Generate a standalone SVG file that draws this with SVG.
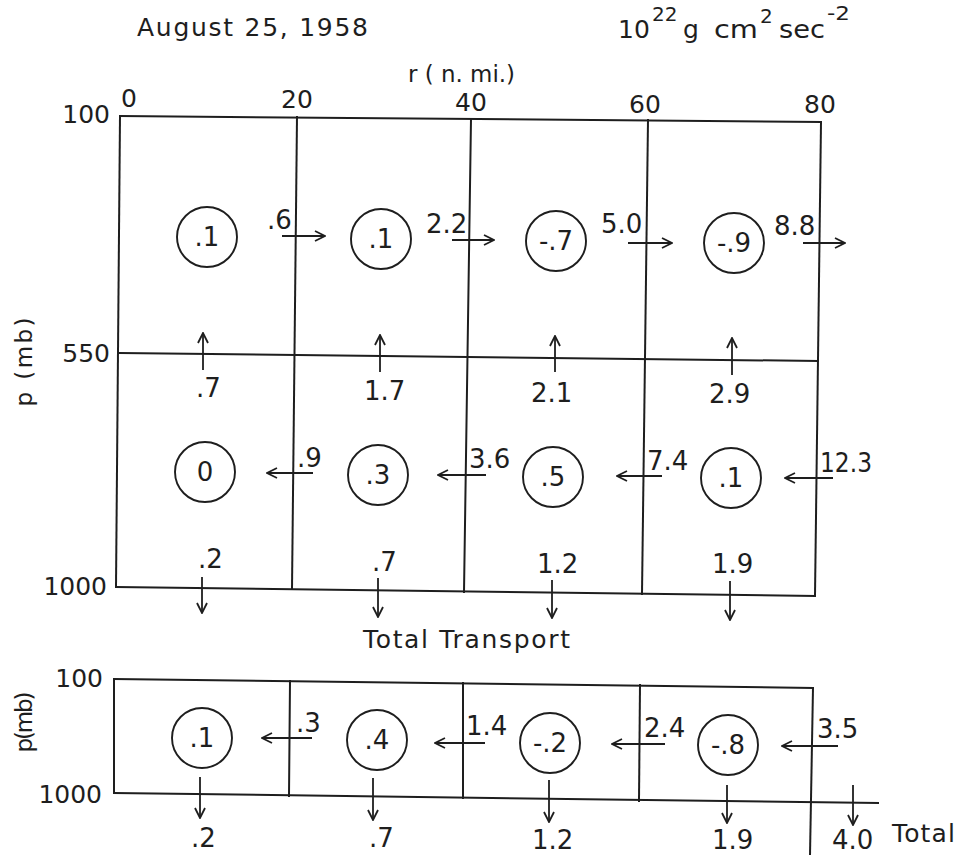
<svg xmlns="http://www.w3.org/2000/svg" width="963" height="855" viewBox="0 0 963 855">
<defs>
<style>
.ln{stroke:#1e1e1e;stroke-width:2;fill:none;stroke-linecap:square}
.ar{stroke:#1e1e1e;stroke-width:1.8;fill:none;marker-end:url(#ah)}
.cir{stroke:#1e1e1e;stroke-width:1.9;fill:none}
text{font-family:"DejaVu Sans","Liberation Sans",sans-serif;fill:#1e1e1e}
.v{font-size:26px}
.ct{font-size:26px;text-anchor:middle}
.ax{font-size:25px}
.sup{font-size:20px}
.lab{font-size:23px}
</style>
<marker id="ah" viewBox="0 0 12 12" refX="11" refY="6" markerWidth="12" markerHeight="12" markerUnits="userSpaceOnUse" orient="auto">
<path d="M1,1 L11,6 L1,11" fill="none" stroke="#1e1e1e" stroke-width="1.8"/>
</marker>
</defs>
<rect width="963" height="855" fill="#fff"/>

<g id="header">
<text class="ax" x="137" y="36" textLength="231" lengthAdjust="spacing">August 25, 1958</text>
<text class="ax" x="618" y="38">10</text>
<text class="sup" x="652" y="21">22</text>
<text class="ax" x="683" y="38">g</text>
<text class="ax" x="714" y="38" textLength="44" lengthAdjust="spacingAndGlyphs">cm</text>
<text class="sup" x="760" y="23">2</text>
<text class="ax" x="779" y="38" textLength="46" lengthAdjust="spacingAndGlyphs">sec</text>
<text class="sup" x="827" y="20" textLength="23" lengthAdjust="spacingAndGlyphs">-2</text>
<text class="lab" x="408" y="82" textLength="107" lengthAdjust="spacingAndGlyphs">r ( n. mi.)</text>
</g>

<g id="axes">
<text class="ax" x="110" y="123" text-anchor="end">100</text>
<text class="ax" x="121" y="107">0</text>
<text class="ax" x="297" y="108" text-anchor="middle">20</text>
<text class="ax" x="471" y="111" text-anchor="middle">40</text>
<text class="ax" x="645" y="113" text-anchor="middle">60</text>
<text class="ax" x="820" y="113" text-anchor="middle">80</text>
<text class="ax" x="110" y="362" text-anchor="end">550</text>
<text class="ax" x="107" y="595" text-anchor="end">1000</text>
<text class="lab" transform="translate(32,362) rotate(-90)" text-anchor="middle" textLength="89" lengthAdjust="spacing">p (mb)</text>
<text class="ax" x="363" y="648" textLength="207" lengthAdjust="spacing">Total Transport</text>
<text class="ax" x="103" y="687" text-anchor="end">100</text>
<text class="ax" x="102" y="803" text-anchor="end">1000</text>
<text class="lab" transform="translate(32,722) rotate(-90)" text-anchor="middle" textLength="61" lengthAdjust="spacing">p(mb)</text>
<text class="ax" x="892" y="842" textLength="63" lengthAdjust="spacing">Total</text>
</g>

<g id="grid-top">
<line class="ln" x1="120" y1="116" x2="821" y2="122"/>
<line class="ln" x1="116" y1="587" x2="815" y2="596"/>
<line class="ln" x1="120" y1="116" x2="116" y2="587"/>
<line class="ln" x1="821" y1="122" x2="815" y2="596"/>
<line class="ln" x1="120" y1="353" x2="818" y2="361"/>
<line class="ln" x1="297" y1="117" x2="292" y2="589"/>
<line class="ln" x1="471" y1="119" x2="464" y2="592"/>
<line class="ln" x1="648" y1="120" x2="642" y2="594"/>
</g>

<g id="grid-bottom">
<line class="ln" x1="114" y1="679" x2="813" y2="688"/>
<line class="ln" x1="114" y1="793" x2="878" y2="803"/>
<line class="ln" x1="114" y1="679" x2="114" y2="793"/>
<line class="ln" x1="813" y1="688" x2="810" y2="855"/>
<line class="ln" x1="290" y1="681" x2="289" y2="796"/>
<line class="ln" x1="463" y1="683" x2="463" y2="798"/>
<line class="ln" x1="640" y1="685" x2="639" y2="801"/>
</g>

<g id="n-u1"><circle class="cir" cx="207" cy="237" r="30"/><text class="ct" x="207" y="246">.1</text></g>
<g id="n-u2"><circle class="cir" cx="381" cy="239" r="30"/><text class="ct" x="381" y="248">.1</text></g>
<g id="n-u3"><circle class="cir" cx="556" cy="241" r="30"/><text class="ct" x="556" y="250">-.7</text></g>
<g id="n-u4"><circle class="cir" cx="734" cy="243" r="30"/><text class="ct" x="734" y="252">-.9</text></g>
<g id="n-l1"><circle class="cir" cx="205" cy="472" r="30"/><text class="ct" x="205" y="481">0</text></g>
<g id="n-l2"><circle class="cir" cx="378" cy="475" r="30"/><text class="ct" x="378" y="484">.3</text></g>
<g id="n-l3"><circle class="cir" cx="553" cy="477" r="30"/><text class="ct" x="553" y="486">.5</text></g>
<g id="n-l4"><circle class="cir" cx="731" cy="478" r="30"/><text class="ct" x="731" y="487">.1</text></g>
<g id="n-t1"><circle class="cir" cx="202" cy="738" r="30"/><text class="ct" x="202" y="747">.1</text></g>
<g id="n-t2"><circle class="cir" cx="377" cy="740" r="30"/><text class="ct" x="377" y="749">.4</text></g>
<g id="n-t3"><circle class="cir" cx="550" cy="743" r="30"/><text class="ct" x="550" y="752">-.2</text></g>
<g id="n-t4"><circle class="cir" cx="728" cy="745" r="30"/><text class="ct" x="728" y="754">-.8</text></g>

<g id="connectors">
<line class="ar" x1="282" y1="236" x2="325" y2="236"/>
<line class="ar" x1="452" y1="240" x2="494" y2="240"/>
<line class="ar" x1="628" y1="243" x2="672" y2="243"/>
<line class="ar" x1="803" y1="243" x2="845" y2="243"/>
<line class="ar" x1="203" y1="370" x2="203" y2="333"/>
<line class="ar" x1="380" y1="372" x2="380" y2="335"/>
<line class="ar" x1="555" y1="372" x2="555" y2="336"/>
<line class="ar" x1="732" y1="375" x2="732" y2="338"/>
<line class="ar" x1="313" y1="473" x2="267" y2="473"/>
<line class="ar" x1="486" y1="475" x2="438" y2="475"/>
<line class="ar" x1="662" y1="476" x2="617" y2="476"/>
<line class="ar" x1="833" y1="478" x2="785" y2="478"/>
<line class="ar" x1="202" y1="577" x2="202" y2="613"/>
<line class="ar" x1="378" y1="578" x2="378" y2="617"/>
<line class="ar" x1="552" y1="580" x2="552" y2="618"/>
<line class="ar" x1="730" y1="581" x2="730" y2="620"/>
<line class="ar" x1="312" y1="738" x2="262" y2="738"/>
<line class="ar" x1="485" y1="743" x2="435" y2="743"/>
<line class="ar" x1="665" y1="744" x2="612" y2="744"/>
<line class="ar" x1="838" y1="746" x2="782" y2="746"/>
<line class="ar" x1="200" y1="777" x2="200" y2="818"/>
<line class="ar" x1="373" y1="778" x2="373" y2="820"/>
<line class="ar" x1="549" y1="780" x2="549" y2="822"/>
<line class="ar" x1="727" y1="785" x2="727" y2="823"/>
<line class="ar" x1="853" y1="785" x2="853" y2="825"/>
</g>

<g id="labels">
<text class="v" x="267" y="229">.6</text>
<text class="v" x="426" y="233">2.2</text>
<text class="v" x="601" y="233">5.0</text>
<text class="v" x="774" y="235">8.8</text>
<text class="v" x="196" y="397">.7</text>
<text class="v" x="364" y="400">1.7</text>
<text class="v" x="531" y="402">2.1</text>
<text class="v" x="709" y="403">2.9</text>
<text class="v" x="297" y="467">.9</text>
<text class="v" x="469" y="468">3.6</text>
<text class="v" x="647" y="470">7.4</text>
<text class="v" x="820" y="472" textLength="52" lengthAdjust="spacingAndGlyphs">12.3</text>
<text class="v" x="198" y="568">.2</text>
<text class="v" x="372" y="571">.7</text>
<text class="v" x="537" y="573">1.2</text>
<text class="v" x="712" y="573">1.9</text>
<text class="v" x="296" y="732">.3</text>
<text class="v" x="466" y="735">1.4</text>
<text class="v" x="644" y="737">2.4</text>
<text class="v" x="817" y="738">3.5</text>
<text class="v" x="191" y="847">.2</text>
<text class="v" x="369" y="847">.7</text>
<text class="v" x="532" y="849">1.2</text>
<text class="v" x="712" y="849">1.9</text>
<text class="v" x="832" y="849">4.0</text>
</g>
</svg>
